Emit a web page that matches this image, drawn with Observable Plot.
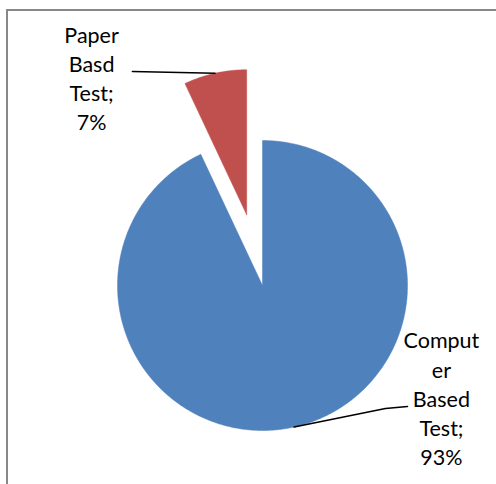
<!DOCTYPE html>
<html>
<head>
<meta charset="utf-8">
<script src="https://cdn.jsdelivr.net/npm/d3@7"></script>
<script src="https://cdn.jsdelivr.net/npm/@observablehq/plot@0.6"></script>
<style>
  html, body { margin: 0; padding: 0; background: #fff; }
  #wrap { position: relative; width: 496px; height: 484px; overflow: hidden; }
  #chart { position: absolute; left: 0; top: 0; }
  #frame { position: absolute; left: 6px; top: 9px; width: 600px; height: 600px;
           border-left: 2px solid #888; border-top: 2px solid #888; pointer-events: none; }
</style>
</head>
<body>
<div id="wrap"><div id="chart"></div><div id="frame"></div></div>
<script>
// ---- data ----
const categories = ["Computer Based Test", "Paper Basd Test"];
const values = [93, 7];
const labelLines = [["Comput", "er", "Based", "Test;", "93%"], ["Paper", "Basd", "Test;", "7%"]];
const colors = ["#4F81BD", "#C0504D"];

// ---- layout (unit = pie radius) ----
const exploded = [0, 0.5];
const labelPos = [{x: 1.234, y: -1.241}, {x: -1.179, y: 1.069}];
const leaderBends = [[{x: 0.848, y: -0.848}, {x: 1.0, y: -0.834}], [{x: -0.897, y: 1.476}]];

const pie = d3.pie().sort(null).value(d => d)(values);

const marks = [];
pie.forEach((p, i) => {
  const mid = (p.startAngle + p.endAngle) / 2;
  const ox = exploded[i] * Math.sin(mid), oy = exploded[i] * Math.cos(mid);
  const pts = [{x: ox, y: oy}];
  const steps = Math.max(8, Math.ceil((p.endAngle - p.startAngle) / (Math.PI / 360)));
  for (let k = 0; k <= steps; k++) {
    const a = p.startAngle + (p.endAngle - p.startAngle) * k / steps;
    pts.push({x: ox + Math.sin(a), y: oy + Math.cos(a)});
  }
  pts.push({x: ox, y: oy});
  marks.push(Plot.line(pts, {x: "x", y: "y", fill: colors[i], stroke: colors[i], strokeWidth: 0.5, curve: "linear"}));
  const leader = [{x: ox + Math.sin(mid), y: oy + Math.cos(mid)}, ...leaderBends[i]];
  marks.push(Plot.line(leader, {x: "x", y: "y", stroke: "#000", strokeWidth: 1.6}));
});

const labels = categories.map((c, i) => ({text: labelLines[i].join("\n"), x: labelPos[i].x, y: labelPos[i].y}));
marks.push(Plot.text(labels, {x: "x", y: "y", text: "text", lineAnchor: "bottom", textAnchor: "middle",
  lineHeight: 1.36, fontSize: 21.5, fill: "#000"}));

const plot = Plot.plot({
  width: 496, height: 484,
  marginTop: 0, marginRight: 0, marginBottom: 0, marginLeft: 0,
  x: {domain: [-1, 1], range: [117, 407], axis: null},
  y: {domain: [-1, 1], range: [430, 140], axis: null},
  style: {fontFamily: "Lato, 'Open Sans', sans-serif", background: "transparent"},
  marks
});
document.getElementById("chart").appendChild(plot);
</script>
</body>
</html>
